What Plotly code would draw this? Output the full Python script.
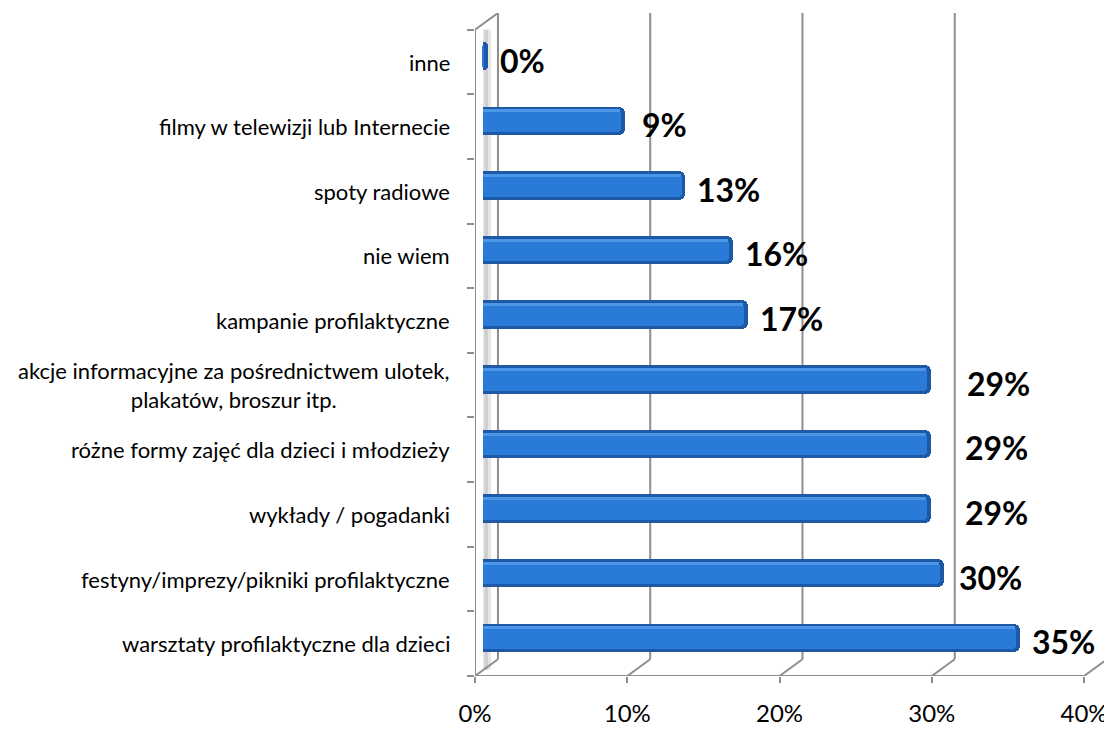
import plotly.graph_objects as go

# ---- data (bottom to top) ----
categories = [
    "warsztaty profilaktyczne dla dzieci",
    "festyny/imprezy/pikniki profilaktyczne",
    "wykłady / pogadanki",
    "różne formy zajęć dla dzieci i młodzieży",
    "akcje informacyjne za pośrednictwem ulotek,<br>plakatów, broszur itp.",
    "kampanie profilaktyczne",
    "nie wiem",
    "spoty radiowe",
    "filmy w telewizji lub Internecie",
    "inne",
]
values = [35.3, 30.3, 29.4, 29.4, 29.4, 17.4, 16.4, 13.3, 9.3, 0.3]
value_labels = ["35%", "30%", "29%", "29%", "29%", "17%", "16%", "13%", "9%", "0%"]
tick_values = [0, 10, 20, 30, 40]
tick_labels = ["0%", "10%", "20%", "30%", "40%"]

# ---- style / geometry ----
label_xshift = [10, 13, 32, 32, 34, 10, 10, 10, 15, 10]
OFF = 8  # page body margin
W, H = 1112 - OFF, 731 - OFF
ML, MR, MT, MB = 475 - OFF, 4, 13 - OFF, 731 - 687
PX_X = 15.25          # px per 1 % unit
PX_Y = 65.7           # px per category
dx_front = -8 / PX_X  # front plane relative to bar plane
dx_back = 15 / PX_X   # back wall relative to bar plane
dy_back = 17 / PX_Y
bar_up = 6 / PX_Y
py = 1 / PX_Y

n = len(categories)
pos = list(range(n))
grid_col = "#8e8e8e"
font_fam = "Lato, 'Open Sans', sans-serif"

fig = go.Figure()

base_w = 29 * py
base_off = bar_up - base_w / 2
fig.add_trace(go.Bar(
    y=pos, x=values, orientation="h", width=base_w, offset=base_off,
    marker=dict(color="#1d59a5", line=dict(width=0), cornerradius=6),
    hoverinfo="skip", showlegend=False))
fig.add_trace(go.Bar(
    y=pos, x=[max(v - 4 / PX_X, 0) for v in values], orientation="h",
    width=base_w - 7 * py, offset=base_off + 3 * py,
    marker=dict(color="#2a7bd7", line=dict(width=0), cornerradius=4),
    hoverinfo="skip", showlegend=False))
fig.add_trace(go.Bar(
    y=pos, x=[max(v - 5 / PX_X, 0) for v in values], orientation="h",
    width=3 * py, offset=base_off + base_w - 6 * py,
    marker=dict(color="#4b96e6", line=dict(width=0)),
    hoverinfo="skip", showlegend=False))

shapes = []
ybot = -0.5
ytop = n - 0.5
# left wall shading
shapes.append(dict(type="rect", xref="x", yref="y", x0=0, x1=8 / PX_X,
                   y0=ybot + 0.1, y1=ytop, fillcolor="#e6e6e6", line=dict(width=0), layer="below"))
shapes.append(dict(type="rect", xref="x", yref="y", x0=1.5 / PX_X, x1=5 / PX_X,
                   y0=ybot + 0.1, y1=ytop, fillcolor="#cfcfcf", line=dict(width=0), layer="below"))
# back wall gridlines and floor diagonals
for k in tick_values:
    shapes.append(dict(type="line", xref="x", yref="y", x0=k + dx_back, x1=k + dx_back,
                       y0=ybot + dy_back, y1=ytop + dy_back, line=dict(color=grid_col, width=2), layer="below"))
    shapes.append(dict(type="line", xref="x", yref="y", x0=k + dx_front, x1=k + dx_back,
                       y0=ybot, y1=ybot + dy_back, line=dict(color=grid_col, width=2), layer="below"))
# front floor edge
shapes.append(dict(type="line", xref="x", yref="y", x0=tick_values[0] + dx_front, x1=tick_values[-1] + dx_front,
                   y0=ybot, y1=ybot, line=dict(color=grid_col, width=2), layer="below"))
# left wall front edge and top edge
shapes.append(dict(type="line", xref="x", yref="y", x0=dx_front, x1=dx_front,
                   y0=ybot, y1=ytop, line=dict(color=grid_col, width=2), layer="below"))
shapes.append(dict(type="line", xref="x", yref="y", x0=dx_front, x1=dx_back,
                   y0=ytop, y1=ytop + dy_back, line=dict(color=grid_col, width=2), layer="below"))

annotations = []
for i, c in enumerate(categories):
    annotations.append(dict(xref="paper", yref="y", x=0, y=i, xanchor="right", yanchor="middle",
                            xshift=-23, align="center", showarrow=False, text=c,
                            font=dict(family=font_fam, size=22, color="#000000")))
for i, (v, t) in enumerate(zip(values, value_labels)):
    annotations.append(dict(xref="x", yref="y", x=v, y=i, xanchor="left", yanchor="middle",
                            xshift=label_xshift[i], yshift=2, showarrow=False, text="<b>" + t + "</b>",
                            font=dict(family=font_fam, size=32, color="#000000")))

fig.update_layout(
    width=W, height=H, margin=dict(l=ML, r=MR, t=MT, b=MB),
    paper_bgcolor="white", plot_bgcolor="white",
    barmode="overlay", bargap=0,
    shapes=shapes, annotations=annotations,
    xaxis=dict(range=[dx_front, tick_values[-1] + dx_back],
               tickvals=[k + dx_front for k in tick_values], ticktext=tick_labels,
               ticks="outside", ticklen=6, tickwidth=2, tickcolor=grid_col,
               showgrid=False, zeroline=False, showline=False, ticklabelstandoff=10,
               tickfont=dict(family=font_fam, size=24, color="#000000")),
    yaxis=dict(range=[ybot, ytop + dy_back], tickvals=[p - 0.5 for p in pos] + [ytop],
               ticks="outside", ticklen=7, tickwidth=2, tickcolor=grid_col,
               showticklabels=False, showgrid=False, zeroline=False, showline=False),
)

fig.write_html("out.html")
